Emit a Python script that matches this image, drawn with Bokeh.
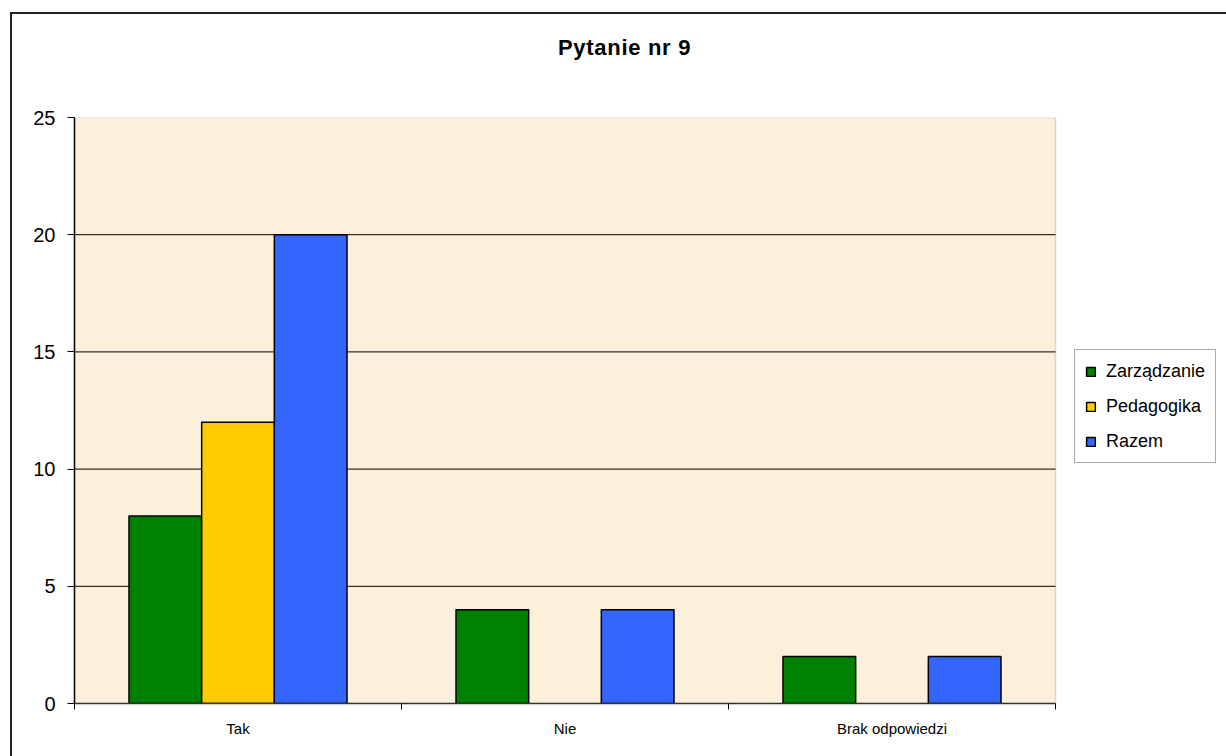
from bokeh.plotting import figure
from bokeh.models import (ColumnDataSource, FixedTicker, Legend, LegendItem,
                          Range1d, InlineStyleSheet, Div, BoxAnnotation)
from bokeh.layouts import column
from bokeh.embed import file_html
from bokeh.resources import INLINE

# ---- data ----
categories = ["Tak", "Nie", "Brak odpowiedzi"]
series_names = ["Zarządzanie", "Pedagogika", "Razem"]
zarzadzanie = [8, 4, 2]
pedagogika = [12, 0, 0]
razem = [20, 4, 2]
series_colors = ["#008000", "#FFCC00", "#3366FF"]
y_ticks = [0, 5, 10, 15, 20, 25]
title_text = "Pytanie nr 9"

FONT = "Liberation Sans"
N = len(categories)
Y_MAX = 25

title_div = Div(text=title_text, width=1226, height=100, margin=0,
                styles={"padding-left": "558px", "padding-top": "35px",
                        "box-sizing": "border-box",
                        "font-family": "'Liberation Sans'", "font-size": "22px",
                        "font-weight": "bold", "color": "black",
                        "letter-spacing": "0.7px",
                        "line-height": "normal", "background": "white"})

# the frame runs to the right edge so the legend can sit beside the plot area
p = figure(width=1226, height=656, output_backend="svg", toolbar_location=None,
           x_range=Range1d(0, N * 1152 / 981), y_range=Range1d(0, Y_MAX),
           min_border_left=74, min_border_right=0, min_border_top=17,
           min_border_bottom=53, margin=0)

p.background_fill_color = "white"
p.border_fill_color = "white"
p.outline_line_color = None

# plot area (beige) with grey top/right edges
plot_area = BoxAnnotation(left=0, right=N, bottom=0, top=Y_MAX,
                          fill_color="#FCF0DA", fill_alpha=1,
                          line_color="#8C8C8C", line_width=1.5, level="underlay")
p.add_layout(plot_area)

# horizontal grid lines limited to the plot area (drawn before the bars)
grid_y = [y for y in y_ticks if 0 < y < Y_MAX]
p.segment(x0=[0] * len(grid_y), y0=grid_y, x1=[N] * len(grid_y), y1=grid_y,
          line_color="black", line_width=1)

# bars
n_series = len(series_names)
bar_w = 1.0 / (n_series + 1.5)
items = []
for s, (name, vals, col) in enumerate(zip(series_names, [zarzadzanie, pedagogika, razem], series_colors)):
    xs, tops = [], []
    for i, v in enumerate(vals):
        if v > 0:
            xs.append(i + 0.5 + (s - (n_series - 1) / 2) * bar_w)
            tops.append(v)
    src = ColumnDataSource(dict(x=xs, top=tops))
    r = p.vbar(x="x", top="top", bottom=0, width=bar_w, source=src,
               fill_color=col, line_color="black", line_width=1.5)
    items.append(LegendItem(label=name, renderers=[r]))

# y axis
ya = p.yaxis[0]
ya.ticker = FixedTicker(ticks=y_ticks)
ya.major_label_text_font = FONT
ya.major_label_text_font_size = "20px"
ya.major_label_text_color = "black"
ya.major_tick_out = 7
ya.major_tick_in = 0
ya.minor_tick_out = 0
ya.minor_tick_in = 0
ya.axis_line_color = "black"
ya.axis_line_width = 1.5
ya.major_tick_line_color = "black"
ya.major_label_standoff = 12

# x axis: labels at centres, ticks at category boundaries
xa = p.xaxis[0]
centers = [i + 0.5 for i in range(N)]
bounds = [float(i) for i in range(N + 1)]
xa.ticker = FixedTicker(ticks=centers, minor_ticks=bounds)
xa.bounds = (0, N)
xa.major_label_overrides = {c: lab for c, lab in zip(centers, categories)}
xa.major_label_text_font = FONT
xa.major_label_text_font_size = "15px"
xa.major_label_text_color = "black"
xa.major_tick_out = 0
xa.major_tick_in = 0
xa.minor_tick_out = 6
xa.minor_tick_in = 0
xa.minor_tick_line_color = "black"
xa.axis_line_color = "#333333"
xa.axis_line_width = 1.5
xa.major_label_standoff = 10

p.xgrid.grid_line_color = None
p.ygrid.grid_line_color = None

# legend beside the plot area
legend = Legend(items=items, location=(1000, 240), orientation="vertical")
legend.label_text_font = FONT
legend.label_text_font_size = "18px"
legend.label_text_color = "black"
legend.glyph_width = 11
legend.glyph_height = 11
legend.label_height = 22
legend.spacing = 13
legend.padding = 10
legend.margin = 0
legend.label_standoff = 10
legend.border_line_color = "#555555"
legend.border_line_width = 1
legend.background_fill_color = "white"
legend.background_fill_alpha = 1
p.add_layout(legend, "center")

layout = column(title_div, p, spacing=0)

# outer chart border (right/bottom lie beyond view)
layout.stylesheets = [InlineStyleSheet(css="""
:host { position: relative; }
:host::before {
  content: ''; position: absolute; left: 10px; top: 12px; right: 0; bottom: 0;
  border-left: 2px solid #222; border-top: 2px solid #222;
  pointer-events: none; z-index: 10;
}
""")]

open("out.html", "w").write(file_html(layout, INLINE))
